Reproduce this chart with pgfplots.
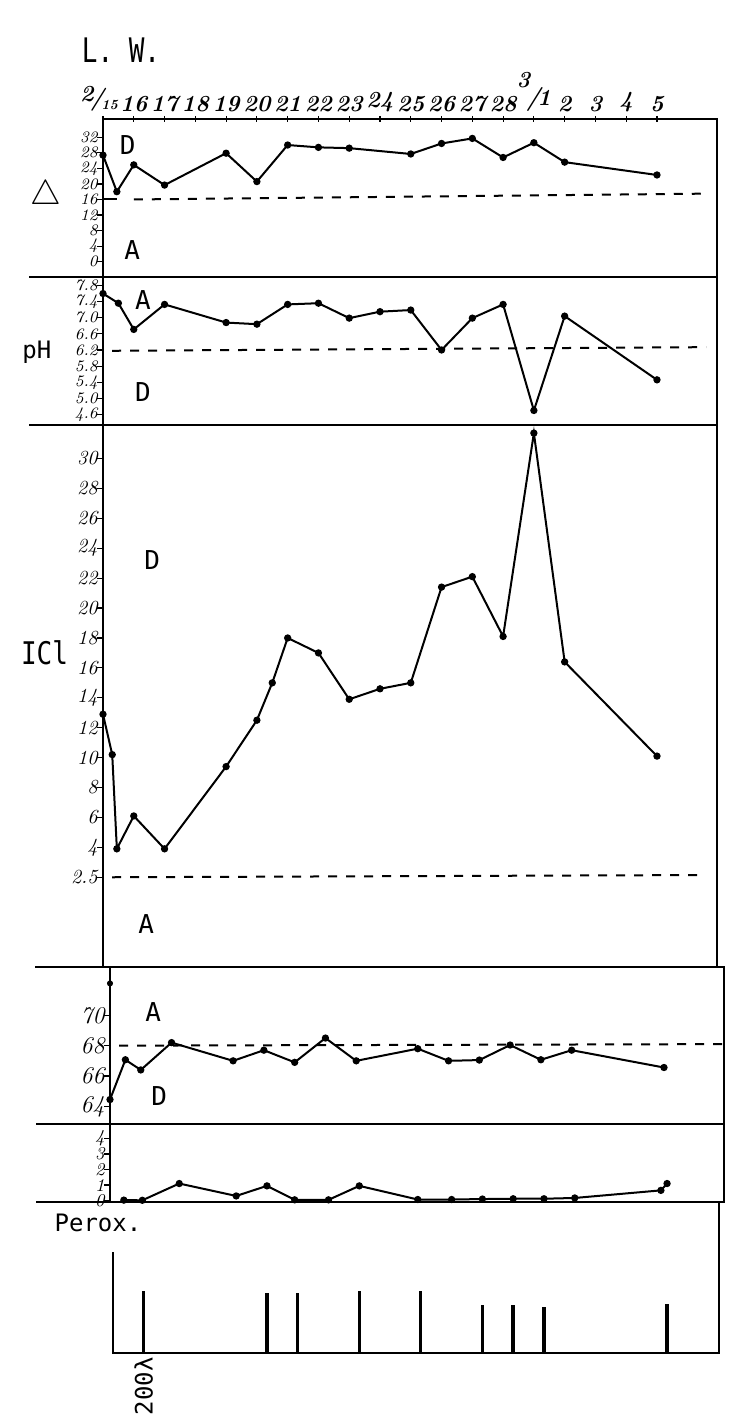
\documentclass[border=0pt]{standalone}
\usepackage{pgfplots}
\pgfplotsset{compat=1.18}
\usepackage{fontspec}
\newfontfamily\typfont{DejaVu Sans Mono}
\tikzset{lab/.style={font=\typfont\fontsize{13}{13}\selectfont}}
\begin{document}
\begin{tikzpicture}
\path[use as bounding box] (0pt,0pt) rectangle (376pt,710pt);
\pgfplotsset{
  panel/.style={scale only axis, width=307pt, clip=false,
    xmin=0, xmax=19.95,
    axis line style={line width=1pt},
    xtick=\empty,
    ytick pos=left, tick align=center, major tick length=3pt,
    y tick style={xshift=-1.5pt, line width=0.6pt, black},
    yticklabel style={font=\itshape\footnotesize, inner sep=1pt},
  },
  dat/.style={black, line width=1pt, mark=*, mark size=1.3pt, mark options={solid}},
  refl/.style={black, line width=1pt, dash pattern=on 4.5pt off 4.5pt},
}
% ---------------- Panel 1 : Delta
\begin{axis}[panel, at={(51.5pt,571.5pt)}, anchor=south west, height=79pt,
  axis line style={line width=1.3pt},
  ymin=-3.94, ymax=36.7, ytick={0,4,8,12,16,20,24,28,32},
  yticklabels={0,4,8,12,16,20,24,28,32},
  xtick={0,...,18}, xtick pos=upper, xticklabel pos=upper,
  x tick style={line width=0.6pt, black},
  xticklabel style={font=\fontsize{11.5}{11.5}\selectfont\bfseries\itshape, inner sep=2pt},
  xticklabels={{\kern-4pt\raisebox{2pt}{2}\kern-1.5pt/\kern-1.5pt\raisebox{-2pt}{\scriptsize 15}},16,17,18,19,20,21,22,23,24,25,26,27,28,{\raisebox{9pt}{3}\kern-2pt{\large/}\kern-1.5pt 1},2,3,4,5},
]
\addplot[black, line width=1pt] coordinates {(0,16) (0.45,16)};
\addplot[refl] coordinates {(1,16) (19.6,17.5)};
\addplot[dat] coordinates {(0,27.4) (0.45,18) (1,24.9) (2,19.7) (4,27.9) (5,20.6) (6,30.0) (7,29.4) (8,29.2) (10,27.7) (11,30.4) (12,31.7) (13,26.8) (14,30.6) (15,25.6) (18,22.3)};
\node[lab] at (axis cs:0.8,30) {D};
\node[lab] at (axis cs:0.95,3) {A};
\node at (axis cs:-1.85,16.9) {\fontsize{17}{17}\selectfont$\triangle$};
\draw[line width=1pt] (rel axis cs:-0.12,0) -- (rel axis cs:0,0);
\end{axis}
% ---------------- Panel 2 : pH
\begin{axis}[panel, at={(51.5pt,497.5pt)}, anchor=south west, height=74pt,
  ymin=4.34, ymax=8.01,
  ytick={4.6,5,5.4,5.8,6.2,6.6,7,7.4,7.8},
  yticklabels={4.6,5.0,5.4,5.8,6.2,6.6,7.0,7.4,7.8},
]
\addplot[refl] coordinates {(0.3,6.18) (19.6,6.27)};
\addplot[dat] coordinates {(0,7.6) (0.5,7.36) (1,6.71) (2,7.33) (4,6.88) (5,6.84) (6,7.33) (7,7.36) (8,6.99) (9,7.15) (10,7.19) (11,6.2) (12,6.99) (13,7.33) (14,4.7) (15,7.04) (18,5.46)};
\node[lab] at (axis cs:1.3,7.45) {A};
\node[lab] at (axis cs:1.3,5.15) {D};
\node[font=\typfont\fontsize{12}{12}\selectfont] at (axis cs:-2.15,6.15) {pH};
\draw[line width=1.3pt] (rel axis cs:-0.12,0) -- (rel axis cs:0,0);
\end{axis}
% ---------------- Panel 3 : Cl
\begin{axis}[panel, at={(51.5pt,226.5pt)}, anchor=south west, height=271pt,
  ymin=-4.0, ymax=32.24,
  ytick={2,4,...,30},
  yticklabels={2.5,4,6,8,10,12,14,16,18,20,22,24,26,28,30},
  yticklabel style={font=\itshape\normalsize},
]
\addplot[refl] coordinates {(0.3,2.0) (19.6,2.15)};
\addplot[dat] coordinates {(0,12.9) (0.3,10.2) (0.45,3.9) (1,6.1) (2,3.9) (4,9.4) (5,12.5) (5.5,15.0) (6,18.0) (7,17.0) (8,13.9) (9,14.6) (10,15.0) (11,21.4) (12,22.1) (13,18.1) (14,31.7) (15,16.4) (18,10.1)};
\node[lab] at (axis cs:1.6,23.2) {D};
\node[lab] at (axis cs:1.4,-1.1) {A};
\node[font=\typfont\fontsize{13}{13}\selectfont, yscale=1.2] at (axis cs:-1.9,17) {ICl};
\draw[line width=1pt] (rel axis cs:-0.11,0) -- (rel axis cs:0,0);
\end{axis}
% ---------------- Panel 4
\begin{axis}[panel, at={(55pt,148pt)}, anchor=south west, height=78.5pt,
  ymin=62.84, ymax=73.18,
  ytick={64,66,68,70}, yticklabels={64,66,68,70},
  yticklabel style={font=\itshape\large},
]
\addplot[refl] coordinates {(0.3,68.0) (19.9,68.1)};
\addplot[dat] coordinates {(0,64.45) (0.5,67.07) (1,66.4) (2,68.2) (4,67.0) (5,67.7) (6,66.9) (7,68.5) (8,67.0) (10,67.8) (11,67.0) (12,67.05) (13,68.04) (14,67.07) (15,67.7) (18,66.56)};
\addplot[only marks, mark=*, mark size=1.3pt, black] coordinates {(0,72.1)};
\node[lab] at (axis cs:1.4,70.2) {A};
\node[lab] at (axis cs:1.6,64.7) {D};
\draw[line width=1pt] (rel axis cs:-0.12,0) -- (rel axis cs:0,0);
\end{axis}
% ---------------- Panel 5
\begin{axis}[panel, at={(55pt,109pt)}, anchor=south west, height=39pt,
  ymin=-0.09, ymax=4.94,
  ytick={0,1,2,3,4}, yticklabels={0,1,2,3,4},
  yticklabel style={font=\itshape\small},
]
\addplot[dat] coordinates {(0.45,0.03) (1.05,0.02) (2.25,1.1) (4.1,0.3) (5.1,0.95) (6,0.05) (7.1,0.05) (8.1,0.95) (10,0.07) (11.1,0.07) (12.1,0.1) (13.1,0.12) (14.1,0.12) (15.1,0.17) (17.9,0.66) (18.1,1.1)};
\draw[line width=1pt] (rel axis cs:-0.12,0) -- (rel axis cs:0,0);
\end{axis}
% ---------------- Perox
\begin{axis}[panel, at={(56.5pt,33.5pt)}, anchor=south west, height=75.5pt,
  hide axis, ymin=0, ymax=489,
]
\addplot[ycomb, black, line width=1.7pt] coordinates {(1,200) (5,195) (6,195) (8,200) (10,200) (12,157) (13,154) (14,149) (18,160)};
\draw[line width=1pt] (axis cs:0,327) -- (axis cs:0,0) -- (axis cs:19.7,0) -- (axis cs:19.7,489);
\node[rotate=90, anchor=east, font=\typfont\fontsize{12}{12}\selectfont, inner sep=2pt] at (axis cs:1,0) {200λ};
\end{axis}
% ---------------- Text
\node[font=\typfont\fontsize{13}{13}\selectfont, yscale=1.3] at (60.5pt,685pt) {L. W.};
\node[font=\typfont\fontsize{12}{12}\selectfont] at (49pt,98.5pt) {Perox.};
\end{tikzpicture}
\end{document}
